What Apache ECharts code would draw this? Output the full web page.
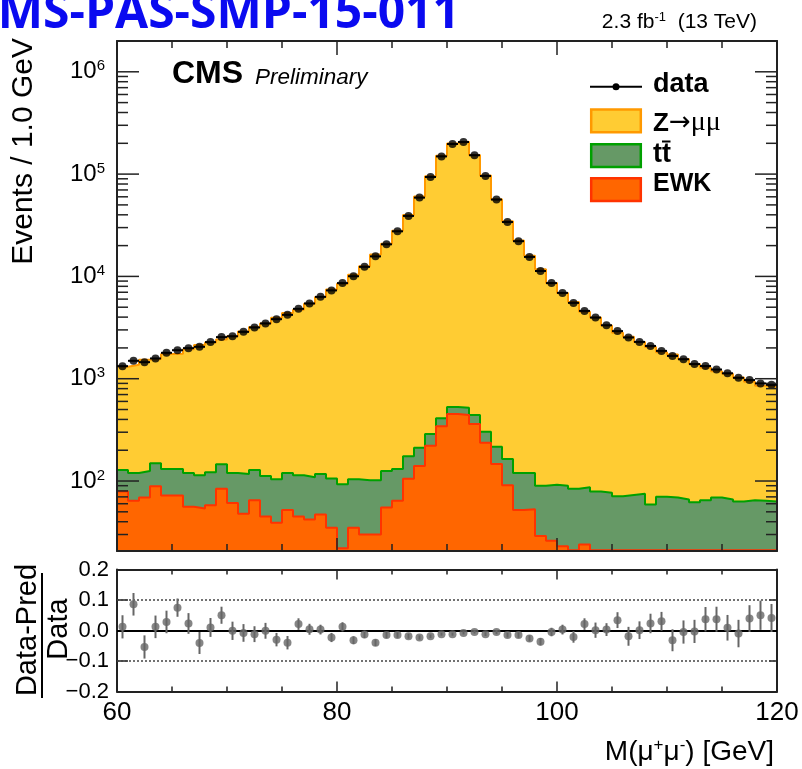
<!DOCTYPE html>
<html><head><meta charset="utf-8">
<script src="https://cdn.jsdelivr.net/npm/echarts@6/dist/echarts.min.js"></script>
<style>html,body{margin:0;padding:0;background:#fff}#c{width:802px;height:769px}</style>
</head><body><div id="c"></div>
<script>
// ---- bins (GeV, low edges, 1 GeV wide) ----
const binLowEdges = [60,61,62,63,64,65,66,67,68,69,70,71,72,73,74,75,76,77,78,79,
  80,81,82,83,84,85,86,87,88,89,90,91,92,93,94,95,96,97,98,99,
  100,101,102,103,104,105,106,107,108,109,110,111,112,113,114,115,116,117,118,119];
const binWidth = 1;

// ---- observed data (events / bin) ----
const dataCounts = [1327,1496,1452,1578,1790,1900,1990,2050,2280,2550,
  2600,2870,3170,3470,3820,4210,4820,5440,6310,7300,
  8600,10040,12400,15700,20600,27600,39000,58900,93700,149000,
  197000,206000,153000,95900,56400,34000,22100,15500,11300,8600,
  6900,5510,4600,3960,3330,2920,2530,2290,2090,1870,
  1670,1550,1390,1330,1230,1130,1020,970,900,871];

// ---- predictions (events / bin) ----
const zmm = [1183,1247,1405,1410,1609,1626,1824,2020,2135,2277,
  2483,2776,3080,3361,3831,4258,4605,5309,6174,7362,
  8404,10257,12459,16226,20784,27883,39566,60044,95192,150378,
  198442,207128,153323,96748,56466,34346,22312,15783,11628,8551,
  6789,5542,4416,3877,3243,2750,2505,2213,1983,1744,
  1654,1492,1332,1216,1115,1054,967,867,791,772];
const ttbar = [49,56,56,60,59,59,64,60,64,62,
  59,69,63,67,65,68,69,67,70,71,
  71,69,72,72,70,67,70,71,67,66,
  77,78,82,66,69,73,68,67,61,66,
  67,63,63,58,56,50,52,54,38,49,
  48,45,41,44,48,45,42,44,43,42];
const ewk = [79,64,69,89,72,72,56,54,58,84,
  61,48,65,45,39,52,45,42,47,35,
  22,35,30,30,55,64,105,140,221,344,
  451,442,360,237,147,91,52,53,29,26,
  23,21,24,21,21,21,21,21,21,21,
  21,21,21,21,21,21,21,21,21,21];

// ---- ratio panel: (Data-Pred)/Data and its uncertainty ----
const ratio = [0.012,0.086,-0.054,0.012,0.028,0.075,0.023,-0.041,0.010,0.050,
  -0.001,-0.008,-0.012,-0.001,-0.030,-0.040,0.021,0.004,0.003,-0.023,
  0.012,-0.032,-0.013,-0.040,-0.015,-0.015,-0.019,-0.023,-0.019,-0.012,
  -0.012,-0.008,-0.005,-0.012,-0.005,-0.015,-0.015,-0.026,-0.037,-0.005,
  0.003,-0.021,0.021,0.001,0.003,0.034,-0.019,0.001,0.023,0.030,
  -0.032,-0.005,-0.003,0.037,0.037,0.009,-0.010,0.039,0.050,0.041];
const ratioErr = [0.038,0.037,0.038,0.037,0.037,0.030,0.034,0.036,0.031,0.028,
  0.030,0.029,0.026,0.026,0.022,0.022,0.019,0.018,0.016,0.015,
  0.015,0.013,0.012,0.011,0.010,0.009,0.008,0.007,0.006,0.005,
  0.005,0.005,0.005,0.006,0.007,0.008,0.009,0.010,0.012,0.014,
  0.016,0.019,0.019,0.025,0.021,0.026,0.031,0.029,0.032,0.031,
  0.036,0.038,0.038,0.040,0.041,0.042,0.045,0.044,0.048,0.046];

// ---- axis settings ----
const xRange = [60, 120];
const yMainRange = [20.7, 2e6];
const yRatioRange = [-0.2, 0.2];
const ratioRefLines = [0.1, -0.1];

// ---------------------------------------------------------------
const FONT = '"Liberation Sans", Arial, Helvetica, sans-serif';
const SERIF = '"Liberation Serif", "DejaVu Serif", serif';
const ttTop = ttbar.map((v, i) => v + ewk[i]);
const stackTop = zmm.map((v, i) => v + ttTop[i]);
function stepPts(vals) {
  const p = binLowEdges.map((x, i) => [x, vals[i]]);
  p.push([binLowEdges[binLowEdges.length - 1] + binWidth, vals[vals.length - 1]]);
  return p;
}
const centers = binLowEdges.map(x => x + binWidth / 2);

const yTicks = [];
for (let n = 1; n <= 6; n++) for (let k = 1; k <= 9; k++) {
  const v = k * Math.pow(10, n);
  if (v >= yMainRange[0] && v <= yMainRange[1]) yTicks.push([xRange[0], v, k === 1 ? 1 : 0]);
}

const frame = {show: true, onZero: false, lineStyle: {color: '#222', width: 2}};
const tickStyle = {color: '#222', width: 1.5};
function xAx(grid, pos, major, minor, labels) {
  return {
    gridIndex: grid, type: 'value', min: xRange[0], max: xRange[1], interval: 20, position: pos, z: 4,
    axisLine: frame,
    axisTick: {show: true, inside: true, length: major, lineStyle: tickStyle},
    minorTick: {show: true, splitNumber: 4, length: minor, lineStyle: tickStyle},
    splitLine: {show: false}, minorSplitLine: {show: false},
    axisLabel: labels ? {show: true, fontSize: 26, color: '#000', margin: 8, fontFamily: FONT, showMinLabel: true, showMaxLabel: true} : {show: false}
  };
}

const option = {
  animation: false,
  textStyle: {fontFamily: FONT},
  grid: [
    {left: 117, top: 41, width: 660, height: 510, containLabel: false},
    {left: 117, top: 569.5, width: 660, height: 122, containLabel: false}
  ],
  xAxis: [
    xAx(0, 'bottom', 13, 7, false),
    xAx(0, 'top', 14, 7, false),
    xAx(1, 'bottom', 10, 5, true),
    xAx(1, 'top', 10, 5, false)
  ],
  yAxis: [
    {gridIndex: 0, type: 'log', logBase: 10, min: yMainRange[0], max: yMainRange[1], position: 'left', z: 4,
      axisLine: frame, axisTick: {show: false}, splitLine: {show: false},
      axisLabel: {show: true, margin: 12, showMinLabel: false, showMaxLabel: false, color: '#000',
        formatter: v => '{b|10}{e|' + Math.round(Math.log10(v)) + '}',
        rich: {b: {fontSize: 24, fontFamily: FONT, color: '#000', lineHeight: 26},
               e: {fontSize: 15, fontFamily: FONT, color: '#000', verticalAlign: 'top', lineHeight: 15}}}},
    {gridIndex: 0, type: 'log', logBase: 10, min: yMainRange[0], max: yMainRange[1], position: 'right', z: 4,
      axisLine: frame, axisTick: {show: false}, splitLine: {show: false}, axisLabel: {show: false}},
    {gridIndex: 1, type: 'value', min: yRatioRange[0], max: yRatioRange[1], interval: 0.1, position: 'left', z: 4,
      axisLine: frame, axisTick: {show: true, inside: true, length: 11, lineStyle: tickStyle}, splitLine: {show: false},
      axisLabel: {show: true, fontSize: 22, color: '#000', margin: 8, fontFamily: FONT, showMinLabel: true, showMaxLabel: true,
        formatter: v => (Math.abs(v) < 1e-9 ? 0 : v).toFixed(1).replace('-', '\u2212')}},
    {gridIndex: 1, type: 'value', min: yRatioRange[0], max: yRatioRange[1], interval: 0.1, position: 'right', z: 4,
      axisLine: frame, axisTick: {show: true, inside: true, length: 8, lineStyle: tickStyle}, splitLine: {show: false},
      axisLabel: {show: false}}
  ],
  series: [
    {name: 'Z\u2192\u03bc\u03bc', type: 'line', xAxisIndex: 0, yAxisIndex: 0, step: 'end', symbol: 'none', silent: true,
      data: stepPts(stackTop), lineStyle: {color: '#ff9900', width: 2},
      areaStyle: {color: '#ffcc33', opacity: 1, origin: 'start'}, z: 1},
    {name: 'tt', type: 'line', xAxisIndex: 0, yAxisIndex: 0, step: 'end', symbol: 'none', silent: true,
      data: stepPts(ttTop), lineStyle: {color: '#00a000', width: 2},
      areaStyle: {color: '#669966', opacity: 1, origin: 'start'}, z: 1},
    {name: 'EWK', type: 'line', xAxisIndex: 0, yAxisIndex: 0, step: 'end', symbol: 'none', silent: true,
      data: stepPts(ewk), lineStyle: {color: '#ff3300', width: 2},
      areaStyle: {color: '#ff6600', opacity: 1, origin: 'start'}, z: 1},
    {name: 'dataXerr', type: 'custom', xAxisIndex: 0, yAxisIndex: 0, silent: true, z: 5,
      data: centers.map((x, i) => [x, dataCounts[i]]),
      renderItem: (p, api) => {
        const a = api.coord([api.value(0) - binWidth / 2, api.value(1)]);
        const b = api.coord([api.value(0) + binWidth / 2, api.value(1)]);
        return {type: 'line', shape: {x1: a[0], y1: a[1], x2: b[0], y2: b[1]}, style: {stroke: '#000', lineWidth: 2}};
      }},
    {name: 'data', type: 'scatter', xAxisIndex: 0, yAxisIndex: 0, silent: true, z: 6,
      symbol: 'circle', symbolSize: 8, itemStyle: {color: '#000'},
      data: centers.map((x, i) => [x, dataCounts[i]])},
    {name: 'yTicks', type: 'custom', xAxisIndex: 0, yAxisIndex: 0, silent: true, z: 7, clip: false,
      data: yTicks,
      renderItem: (p, api) => {
        const v = api.value(1), major = api.value(2);
        const l = api.coord([xRange[0], v]), r = api.coord([xRange[1], v]);
        const len = major ? 22 : 11;
        return {type: 'group', children: [
          {type: 'line', shape: {x1: l[0], y1: l[1], x2: l[0] + len, y2: l[1]}, style: {stroke: '#222', lineWidth: 1.5}},
          {type: 'line', shape: {x1: r[0] - len, y1: r[1], x2: r[0], y2: r[1]}, style: {stroke: '#222', lineWidth: 1.5}}
        ]};
      }},
    {name: 'ratioErr', type: 'custom', xAxisIndex: 2, yAxisIndex: 2, silent: true, z: 5,
      data: centers.map((x, i) => [x, ratio[i], ratioErr[i]]),
      renderItem: (p, api) => {
        const x = api.value(0), r = api.value(1), e = api.value(2);
        const a = api.coord([x, r + e]), b = api.coord([x, r - e]);
        return {type: 'line', shape: {x1: a[0], y1: a[1], x2: b[0], y2: b[1]}, style: {stroke: '#666', lineWidth: 2}};
      }},
    {name: 'ratio', type: 'scatter', xAxisIndex: 2, yAxisIndex: 2, silent: true, z: 6,
      symbol: 'circle', symbolSize: 8, itemStyle: {color: '#666'},
      data: centers.map((x, i) => [x, ratio[i]]),
      markLine: {silent: true, symbol: 'none', label: {show: false}, animation: false,
        data: [
          {yAxis: 0, lineStyle: {color: '#000', width: 2, type: 'solid'}},
          ...ratioRefLines.map(v => ({yAxis: v, lineStyle: {color: '#444', width: 1.5, type: [2, 2]}}))
        ]}}
  ],
  graphic: [
    {type: 'text', x: 460, y: 14, style: {text: 'CMS-PAS-SMP-15-011', font: 'bold 48px "Open Sans"', fill: '#0a0af0', textAlign: 'right', textVerticalAlign: 'middle'}},
    {type: 'text', x: 757, y: 22, style: {text: '{a|2.3 fb}{s|-1}{a|  (13 TeV)}', textAlign: 'right', textVerticalAlign: 'middle',
      rich: {a: {fontSize: 21, fontFamily: FONT, fill: '#000', lineHeight: 22}, s: {fontSize: 13, fontFamily: FONT, fill: '#000', verticalAlign: 'top', lineHeight: 13}}}},
    {type: 'text', x: 172, y: 74.5, style: {text: 'CMS', font: 'bold 32px ' + FONT, fill: '#000', textAlign: 'left', textVerticalAlign: 'middle'}},
    {type: 'text', x: 255, y: 77.5, style: {text: 'Preliminary', font: 'italic 22.5px ' + FONT, fill: '#000', textAlign: 'left', textVerticalAlign: 'middle'}},
    // legend
    {type: 'line', shape: {x1: 590, y1: 86.7, x2: 642, y2: 86.7}, style: {stroke: '#000', lineWidth: 2}},
    {type: 'circle', shape: {cx: 616, cy: 86.7, r: 3.5}, style: {fill: '#000'}},
    {type: 'text', x: 653, y: 85, style: {text: 'data', font: 'bold 27px ' + FONT, fill: '#000', textAlign: 'left', textVerticalAlign: 'middle'}},
    {type: 'rect', shape: {x: 591.2, y: 109.5, width: 49.6, height: 22.8}, style: {fill: '#ffcc33', stroke: '#ff9900', lineWidth: 2.5}},
    {type: 'text', x: 653, y: 122, style: {text: '{b|Z}{a|\u2192}{n|\u03bc\u03bc}', textAlign: 'left', textVerticalAlign: 'middle',
      rich: {b: {fontSize: 26, fontWeight: 'bold', fontFamily: FONT, fill: '#000', lineHeight: 30, verticalAlign: 'bottom'},
             a: {fontSize: 26, fontFamily: '"DejaVu Sans", sans-serif', fill: '#000', lineHeight: 30, verticalAlign: 'bottom', padding: [0, 0, 1, 0]},
             n: {fontSize: 28, fontFamily: SERIF, fill: '#000', lineHeight: 30, verticalAlign: 'bottom'}}}},
    {type: 'rect', shape: {x: 591.2, y: 144.2, width: 49.6, height: 22.8}, style: {fill: '#669966', stroke: '#00a000', lineWidth: 2.5}},
    {type: 'text', x: 653, y: 155, style: {text: 'tt', font: 'bold 27px ' + FONT, fill: '#000', textAlign: 'left', textVerticalAlign: 'middle'}},
    {type: 'line', shape: {x1: 662, y1: 141.5, x2: 670.5, y2: 141.5}, style: {stroke: '#000', lineWidth: 2}},
    {type: 'rect', shape: {x: 591.2, y: 178.2, width: 49.6, height: 22.8}, style: {fill: '#ff6600', stroke: '#ff3300', lineWidth: 2.5}},
    {type: 'text', x: 653, y: 184.5, style: {text: 'EWK', font: 'bold 25px ' + FONT, fill: '#000', textAlign: 'left', textVerticalAlign: 'middle'}},
    // axis titles
    {type: 'text', x: 24, y: 38, rotation: Math.PI / 2, style: {text: 'Events / 1.0 GeV', font: '30px ' + FONT, fill: '#000', textAlign: 'right', textVerticalAlign: 'middle'}},
    {type: 'text', x: 28, y: 630, rotation: Math.PI / 2, style: {text: 'Data-Pred', font: '29px ' + FONT, fill: '#000', textAlign: 'center', textVerticalAlign: 'middle'}},
    {type: 'line', shape: {x1: 42, y1: 573, x2: 42, y2: 698}, style: {stroke: '#000', lineWidth: 2}},
    {type: 'text', x: 59, y: 629, rotation: Math.PI / 2, style: {text: 'Data', font: '29px ' + FONT, fill: '#000', textAlign: 'center', textVerticalAlign: 'middle'}},
    {type: 'text', x: 774, y: 752, style: {text: '{a|M(\u03bc}{s|+}{a|\u03bc}{s|-}{a|) [GeV]}', textAlign: 'right', textVerticalAlign: 'middle',
      rich: {a: {fontSize: 28, fontFamily: FONT, fill: '#000', lineHeight: 30}, s: {fontSize: 17, fontFamily: FONT, fill: '#000', verticalAlign: 'top', lineHeight: 17}}}}
  ]
};
const chart = echarts.init(document.getElementById('c'));
chart.setOption(option);
</script>
</body></html>
